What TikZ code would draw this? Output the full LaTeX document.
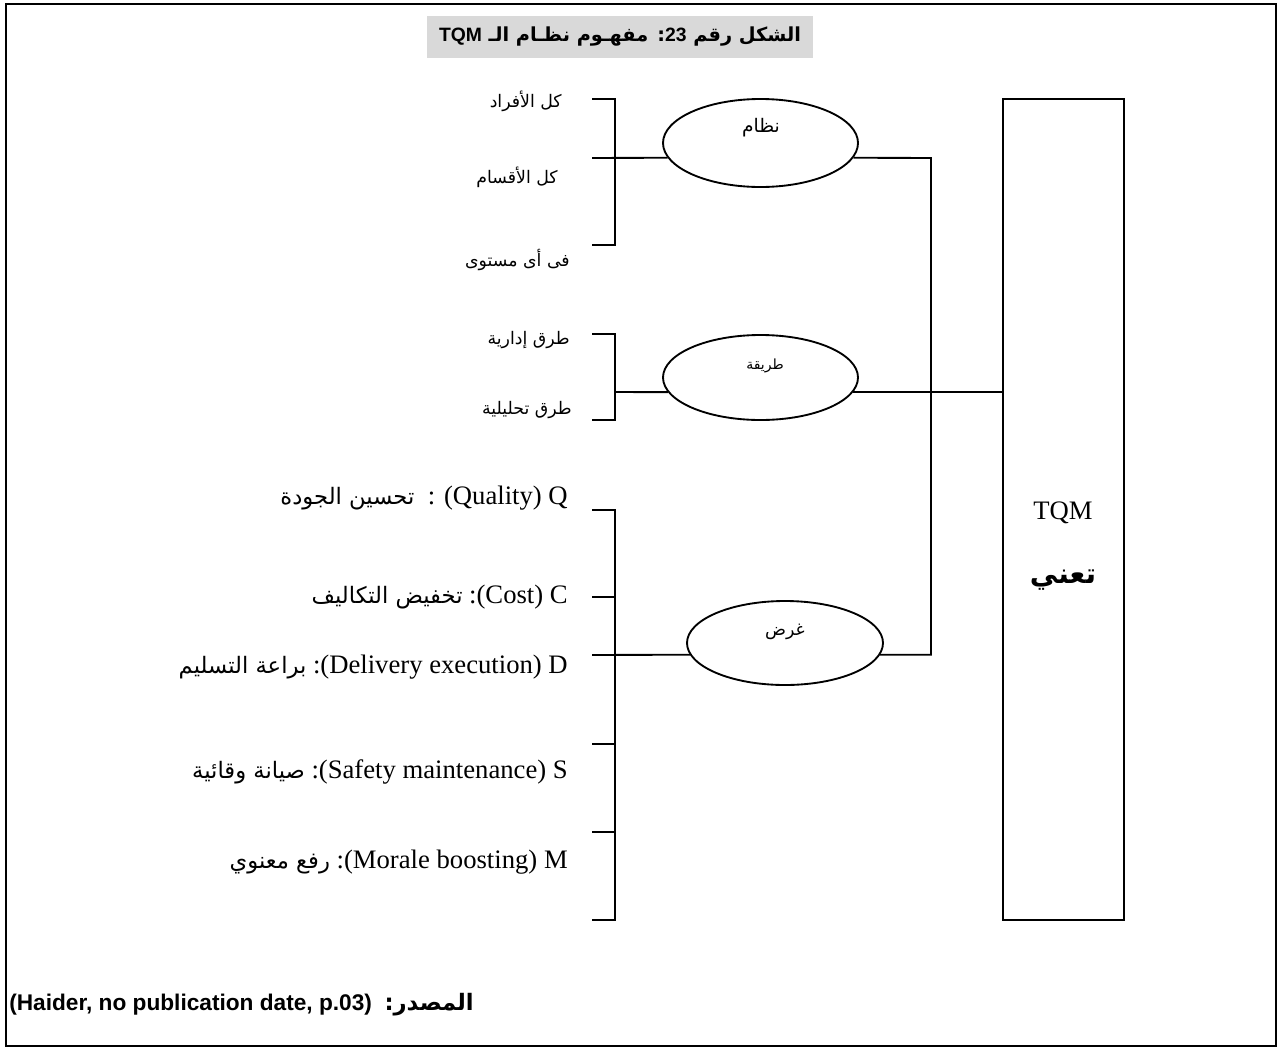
\documentclass[tikz,border=0pt]{standalone}
\usepackage{fontspec}
\setmainfont{Liberation Serif}
\newfontfamily\arial{Liberation Sans}
\newfontfamily\ar[Script=Arabic]{DejaVu Sans}
\TeXXeTstate=1
\usetikzlibrary{shapes.geometric}
\definecolor{titlegray}{HTML}{D9D9D9}
% Arabic type sizes
\newcommand\arsmall{\ar\fontsize{13}{13}\selectfont}
\newcommand\aritem{\ar\fontsize{17}{17}\selectfont}
\tikzset{
  wire/.style={line width=1.4pt},
  oval/.style={ellipse, draw, line width=1.4pt, inner sep=0pt},
  sublbl/.style={anchor=east, inner sep=0pt, font=\arsmall},
  itemlbl/.style={anchor=east, inner sep=0pt, font=\fontsize{20}{24}\selectfont},
}
\begin{document}
\begin{tikzpicture}[x=0.75pt, y=-0.75pt]
\useasboundingbox (0,0) rectangle (1282,1050);
% outer frame
\draw[line width=2pt] (6,4) rectangle (1276,1046);

% heading
\node[fill=titlegray, minimum width=290pt, minimum height=32pt, inner sep=0pt] (title) at (620,37)
  {\ar\bfseries\fontsize{14.5}{16}\selectfont\beginR الشكل رقم {\arial\beginL 23\endL}: مفهـوم نظـام الـ {\arial\beginL TQM\endL}\endR};

% TQM box
\node[draw, line width=1.6pt, minimum width=90.75pt, minimum height=615.75pt, inner sep=0pt] (tqm) at (1063.5,509.5) {};
\node[font=\fontsize{20}{24}\selectfont] (tqmname) at (1063,513) {TQM};
\node (tqmmean) at (1063,580) {\ar\bfseries\fontsize{21}{22}\selectfont\beginR تعني\endR};

% the three ovals
\node[oval, minimum width=146.25pt, minimum height=66pt] (sys) at (760.5,143) {};
\node (systxt) at (761,128) {\ar\fontsize{14}{14}\selectfont\beginR نظام\endR};
\node[oval, minimum width=146.25pt, minimum height=63.75pt] (way) at (760.5,377.5) {};
\node (waytxt) at (765,366) {\ar\fontsize{10.5}{11}\selectfont\beginR طريقة\endR};
\node[oval, minimum width=147pt, minimum height=63pt] (aim) at (785,643) {};
\node (aimtxt) at (785,632) {\ar\fontsize{13}{13}\selectfont\beginR غرض\endR};

% bracket of the system oval
\coordinate (a1) at (592,99);  \coordinate (a2) at (615,99);
\coordinate (a3) at (615,245); \coordinate (a4) at (592,245);
\coordinate (am) at (592,158);
\draw[wire] (a1) -- (a2) -- (a3) -- (a4);
\draw[wire] (am) -- (sys.189);
\node[sublbl] (l11) at (562,101) {\beginR كل الأفراد\endR};
\node[sublbl] (l12) at (558,177) {\beginR كل الأقسام\endR};
\node[sublbl] (l13) at (570,260) {\beginR فى أى مستوى\endR};

% bracket of the method oval
\coordinate (b1) at (592,334); \coordinate (b2) at (615,334);
\coordinate (b3) at (615,420); \coordinate (b4) at (592,420);
\coordinate (bm) at (615,392);
\draw[wire] (b1) -- (b2) -- (b3) -- (b4);
\draw[wire] (bm) -- (way.189);
\node[sublbl] (l21) at (570,340) {\beginR طرق إدارية\endR};
\node[sublbl] (l22) at (572,410) {\beginR طرق تحليلية\endR};

% bracket of the purpose oval
\coordinate (c1) at (592,510); \coordinate (c2) at (615,510);
\coordinate (c3) at (615,920); \coordinate (c4) at (592,920);
\coordinate (cc) at (592,597); \coordinate (cd) at (592,655);
\coordinate (cs) at (592,744); \coordinate (cm) at (592,832);
\draw[wire] (c1) -- (c2) -- (c3) -- (c4);
\draw[wire] (cc) -- (cc -| c2);
\draw[wire] (cs) -- (cs -| c2);
\draw[wire] (cm) -- (cm -| c2);
\draw[wire] (cd) -- (aim.187);
\node[itemlbl] (iq) at (568,498) {{\aritem\beginR تحسين الجودة\endR}\ \ : (Quality) Q};
\node[itemlbl] (ic) at (568,597) {{\aritem\beginR تخفيض التكاليف\endR} :(Cost) C};
\node[itemlbl] (id) at (568,667) {{\aritem\beginR براعة التسليم\endR} :(Delivery execution) D};
\node[itemlbl] (is) at (568,772) {{\aritem\beginR صيانة وقائية\endR} :(Safety maintenance) S};
\node[itemlbl] (im) at (568,862) {{\aritem\beginR رفع معنوي\endR} :(Morale boosting) M};

% links from the ovals to the TQM box
\coordinate (j1) at (931,158);
\draw[wire] (sys.351) -- (j1) |- (aim.353);
\draw[wire] (way.351) -- (way.351 -| tqm.west);

% source line
\node[anchor=west, inner sep=0pt] (src) at (9,1005)
  {\arial\bfseries\fontsize{17}{18}\selectfont (Haider, no publication date, p.03)\ \ {\ar\bfseries\beginR المصدر:\endR}};
\end{tikzpicture}
\end{document}
